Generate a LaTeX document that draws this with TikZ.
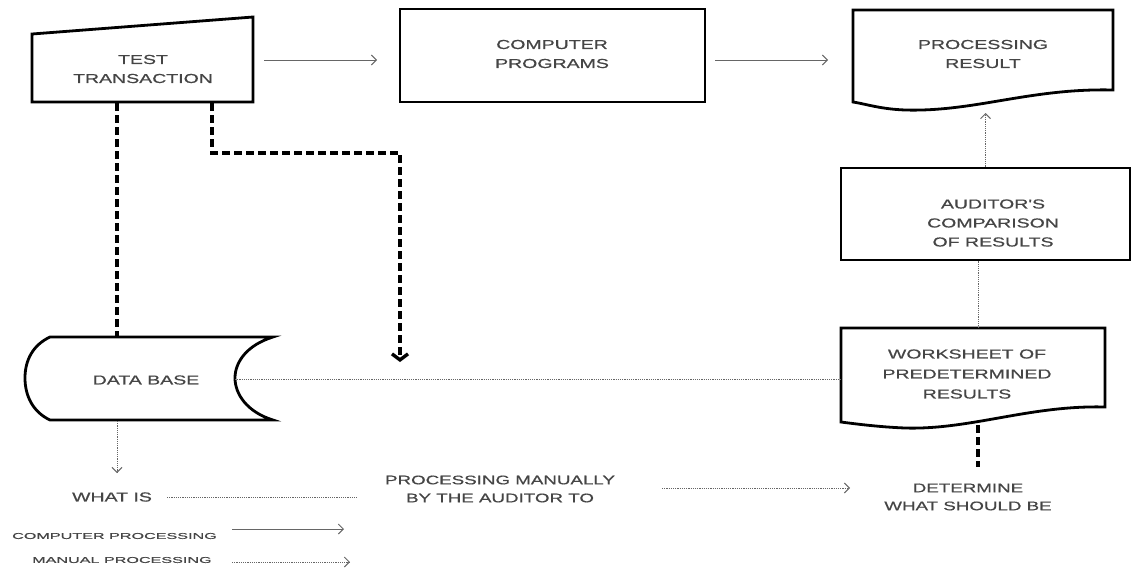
\documentclass[tikz,border=0pt]{standalone}
\usepackage{fontspec}
\setmainfont{Liberation Sans}
\newfontfamily\lblfont[FakeStretch=1.5,FakeBold=0.6]{Liberation Sans}
\newfontfamily\legfont[FakeStretch=1.9,FakeBold=0.6]{Liberation Sans}
\usetikzlibrary{arrows.meta}
\definecolor{txt}{HTML}{454545}
\definecolor{ln}{HTML}{666666}
\begin{document}
\begin{tikzpicture}[x=1pt,y=-1pt,
 shapeline/.style={draw=black,line width=2.8pt,line join=miter},
 boxnode/.style={shapeline,fill=white,inner sep=0pt},
 lbl/.style={text=txt,font=\lblfont\fontsize{13}{19}\selectfont,align=center,inner sep=0pt},
 leg/.style={text=txt,font=\legfont\fontsize{8.5}{10}\selectfont,inner sep=0pt,anchor=west},
 solidarrow/.style={draw=ln,line width=1pt,-{Straight Barb[length=5pt,width=10pt]}},
 dotline/.style={draw=ln,line width=1pt,dash pattern=on 1.2pt off 1pt},
 dotarrow/.style={dotline,-{Straight Barb[length=5pt,width=10pt]}},
 thickdash/.style={draw=black,line width=3.4pt,dash pattern=on 8pt off 4pt,line join=miter},
]
\useasboundingbox (0,0) rectangle (1131,568);

% ---- Test transaction (manual input)
\draw[shapeline] (32,34) -- (253,17) -- (253,102) -- (32,102) -- cycle;
\node[lbl] (tt) at (143,69) {TEST\\TRANSACTION};
\coordinate (ttb1) at (117,103);
\coordinate (ttb2) at (212,103);

% ---- Computer programs
\node[boxnode,minimum width=305pt,minimum height=93pt] (cp) at (552.5,55.5) {};
\node[lbl] (cpt) at (552,54) {COMPUTER\\PROGRAMS};

% ---- Processing result (document)
\draw[shapeline] (853,10) -- (1113,10) -- (1113,90)
  .. controls (1030,88) and (975,112) .. (905,110)
  .. controls (880,109) and (866,104) .. (853,102) -- cycle;
\node[lbl] (pr) at (983,54) {PROCESSING\\RESULT};
\coordinate (prb) at (985.5,113);

% ---- Auditor's comparison
\node[boxnode,minimum width=289pt,minimum height=92pt] (ac) at (985.5,214) {};
\node[lbl] (act) at (993,223) {AUDITOR'S\\COMPARISON\\OF RESULTS};

% ---- Worksheet (document)
\draw[shapeline] (841,328) -- (1105,328) -- (1105,407)
  .. controls (1030,405) and (970,430) .. (905,428)
  .. controls (880,427) and (856,424) .. (841,422) -- cycle;
\node[lbl,font=\lblfont\fontsize{13}{20}\selectfont] (ws) at (967,374) {WORKSHEET OF\\PREDETERMINED\\RESULTS};
\coordinate (wst) at (978,328);
\coordinate (wsl) at (841,379);
\coordinate (wsb) at (978,425);

% ---- Data base (stored data)
\draw[shapeline] (50,337) -- (273,337)
  .. controls (247,345) and (235,362) .. (235,378)
  .. controls (235,394) and (247,412) .. (273,420)
  -- (50,420)
  .. controls (33,412) and (25,396) .. (25,378)
  .. controls (25,360) and (33,345) .. (50,337) -- cycle;
\node[lbl] (db) at (146,380) {DATA BASE};
\coordinate (dbt) at (117,336);
\coordinate (dbb) at (117,421);
\coordinate (dbr) at (235,379);

% ---- bottom texts
\node[lbl] (wi) at (112,497) {WHAT IS};
\node[lbl,font=\lblfont\fontsize{12.5}{18}\selectfont] (pm) at (500,489) {PROCESSING MANUALLY\\BY THE AUDITOR TO};
\node[lbl,font=\lblfont\fontsize{12.5}{18}\selectfont] (dt) at (968,497) {DETERMINE\\WHAT SHOULD BE};

\coordinate (a1s) at (264,60);
\coordinate (a1e) at (377,60);
\coordinate (a2s) at (715,60);
\coordinate (a2e) at (828,60);
\coordinate (jog) at (400,153);
\coordinate (dashend) at (400,362);
\coordinate (dbarr) at (117,473);
\coordinate (wis) at (167,497);
\coordinate (wie) at (358,497);
\coordinate (pms) at (662,488);
\coordinate (pme) at (850,488);
\coordinate (dtt) at (978,467);

% ---- connectors
\draw[solidarrow] (a1s) -- (a1e);
\draw[solidarrow] (a2s) -- (a2e);
\draw[thickdash] (ttb1) -- (dbt);
\draw[thickdash,-{Straight Barb[length=6pt,width=16pt]}] (ttb2) |- (jog) -- (dashend);
\draw[dotarrow] (ac.north) -- (prb);
\draw[dotline] ([xshift=-7.5pt]ac.south) -- (wst);
\draw[dotline] (dbr) -- (wsl);
\draw[dotarrow] (dbb) -- (dbarr);
\draw[dotline] (wis) -- (wie);
\draw[dotarrow] (pms) -- (pme);
\draw[thickdash] (wsb) -- (dtt);

% ---- legend
\node[leg] (lg1) at (12,536) {COMPUTER PROCESSING};
\node[leg] (lg2) at (32,560) {MANUAL PROCESSING};
\coordinate (l1s) at (232,529);
\coordinate (l1e) at (344,529);
\coordinate (l2s) at (232,562);
\coordinate (l2e) at (350,562);
\draw[solidarrow] (l1s) -- (l1e);
\draw[dotarrow] (l2s) -- (l2e);
\end{tikzpicture}
\end{document}
